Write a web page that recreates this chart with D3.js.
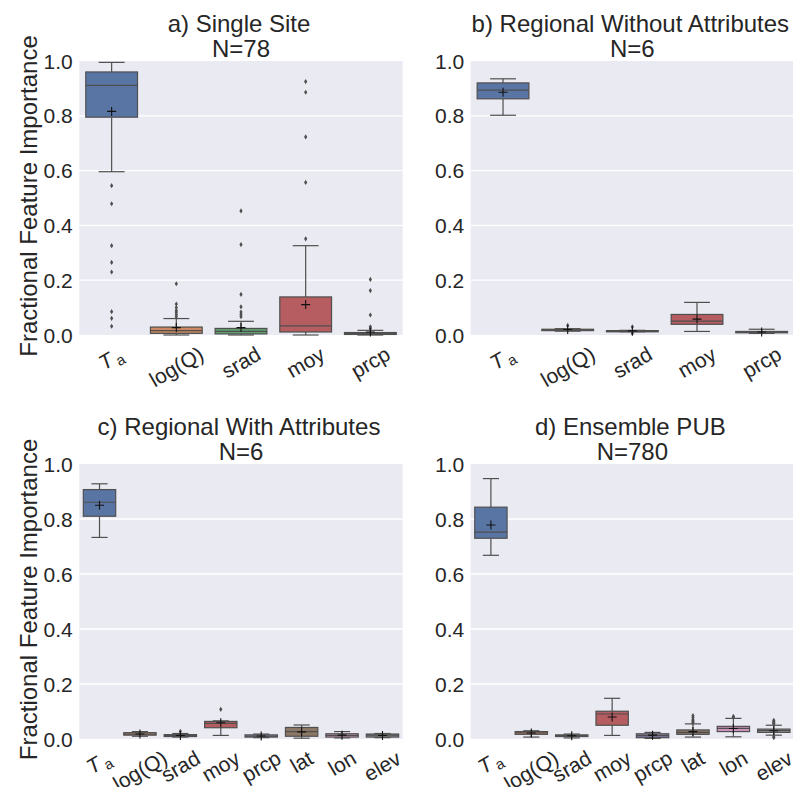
<!DOCTYPE html>
<html>
<head>
<meta charset="utf-8">
<script src="https://cdn.jsdelivr.net/npm/d3@7"></script>
<style>
  body { margin: 0; background: #fff; }
  svg { font-family: "Liberation Sans", Arial, sans-serif; }
</style>
</head>
<body>
<svg id="chart" width="793" height="787"></svg>
<script>
// feature names on the x axes
const featuresBasic = ["Ta", "log(Q)", "srad", "moy", "prcp"];
const featuresAttr = ["Ta", "log(Q)", "srad", "moy", "prcp", "lat", "lon", "elev"];

// seaborn "deep" palette, desaturated the way boxplot does it
const boxColors = ["#5875a4", "#cc8963", "#5f9e6e", "#b55d60", "#857aab", "#8d7866", "#d095bf", "#8c8c8c"];

// box stats: [whiskerLow, q1, median, q3, whiskerHigh, mean]
const singleSiteStats = [
  [0.596, 0.795, 0.911, 0.960, 0.995, 0.816],
  [0.000, 0.006, 0.016, 0.029, 0.060, 0.027],
  [0.000, 0.004, 0.013, 0.024, 0.050, 0.027],
  [0.000, 0.011, 0.033, 0.139, 0.326, 0.111],
  [0.000, 0.002, 0.005, 0.009, 0.017, 0.011]
];
const singleSiteFliers = [
  [0.545, 0.479, 0.326, 0.265, 0.230, 0.085, 0.061, 0.032],
  [0.187, 0.113, 0.100, 0.089, 0.083, 0.075, 0.067],
  [0.453, 0.330, 0.148, 0.103, 0.084, 0.075, 0.067],
  [0.925, 0.886, 0.723, 0.557, 0.351],
  [0.203, 0.162, 0.073, 0.030, 0.024]
];

const regionalNoAttrStats = [
  [0.802, 0.862, 0.894, 0.920, 0.935, 0.886],
  [0.014, 0.016, 0.018, 0.021, 0.023, 0.020],
  [0.012, 0.013, 0.015, 0.016, 0.017, 0.015],
  [0.013, 0.039, 0.051, 0.075, 0.119, 0.058],
  [0.006, 0.008, 0.010, 0.013, 0.021, 0.011]
];
const regionalNoAttrFliers = [[], [0.035], [0.030, 0.006], [], []];

const regionalAttrStats = [
  [0.733, 0.810, 0.861, 0.907, 0.928, 0.850],
  [0.010, 0.014, 0.018, 0.023, 0.027, 0.018],
  [0.007, 0.009, 0.012, 0.016, 0.020, 0.013],
  [0.013, 0.041, 0.057, 0.064, 0.066, 0.059],
  [0.005, 0.007, 0.010, 0.015, 0.018, 0.011],
  [0.003, 0.010, 0.027, 0.042, 0.051, 0.026],
  [0.004, 0.007, 0.013, 0.019, 0.027, 0.014],
  [0.005, 0.007, 0.014, 0.018, 0.020, 0.013]
];
const regionalAttrFliers = [[], [], [0.028], [0.108], [], [], [], []];

const ensembleStats = [
  [0.668, 0.730, 0.752, 0.843, 0.947, 0.778],
  [0.007, 0.017, 0.022, 0.027, 0.030, 0.022],
  [0.004, 0.009, 0.012, 0.015, 0.018, 0.012],
  [0.013, 0.050, 0.091, 0.101, 0.148, 0.080],
  [0.002, 0.005, 0.012, 0.019, 0.024, 0.014],
  [0.007, 0.017, 0.024, 0.033, 0.055, 0.027],
  [0.008, 0.027, 0.039, 0.046, 0.075, 0.038],
  [0.014, 0.024, 0.031, 0.036, 0.050, 0.030]
];
const ensembleFliers = [
  [], [], [], [], [],
  [0.085, 0.078, 0.070, 0.066, 0.062, 0.059],
  [0.082, 0.079],
  [0.068, 0.064, 0.060, 0.057, 0.055, 0.008, 0.005]
];

const yTicks = [0, 0.2, 0.4, 0.6, 0.8, 1.0];

const panels = [
  { title: "a) Single Site", n: "N=78", features: featuresBasic, stats: singleSiteStats, fliers: singleSiteFliers,
    x0: 79.3, x1: 402.7, y0: 61, y1: 335, ylabel: true },
  { title: "b) Regional Without Attributes", n: "N=6", features: featuresBasic, stats: regionalNoAttrStats, fliers: regionalNoAttrFliers,
    x0: 470.7, x1: 794, y0: 61, y1: 335, ylabel: false },
  { title: "c) Regional With Attributes", n: "N=6", features: featuresAttr, stats: regionalAttrStats, fliers: regionalAttrFliers,
    x0: 79.3, x1: 402.7, y0: 464, y1: 739, ylabel: true },
  { title: "d) Ensemble PUB", n: "N=780", features: featuresAttr, stats: ensembleStats, fliers: ensembleFliers,
    x0: 470.7, x1: 794, y0: 464, y1: 739, ylabel: false }
];

const LINE = "#4f4f4f";
const svg = d3.select("#chart");

panels.forEach((p) => drawPanel(p));

function drawPanel(p) {
  const x = d3.scaleBand().domain(p.features).range([p.x0, p.x1]).padding(0);
  const y = d3.scaleLinear().domain([0, 1]).range([p.y1, p.y0]);
  const g = svg.append("g");

  // background + grid
  g.append("rect")
    .attr("x", p.x0).attr("y", p.y0)
    .attr("width", p.x1 - p.x0).attr("height", p.y1 - p.y0)
    .attr("fill", "#eaeaf2");
  g.selectAll(".grid")
    .data(yTicks.slice(1, -1))
    .join("line")
    .attr("x1", p.x0).attr("x2", p.x1)
    .attr("y1", (d) => y(d)).attr("y2", (d) => y(d))
    .attr("stroke", "#fff").attr("stroke-width", 1.3);

  // y tick labels
  g.selectAll(".ytick")
    .data(yTicks)
    .join("text")
    .attr("x", p.x0 - 6.5)
    .attr("y", (d) => y(d))
    .attr("dy", "0.36em")
    .attr("text-anchor", "end")
    .attr("font-size", 21)
    .attr("fill", "#262626")
    .text((d) => d.toFixed(1));

  // boxes
  const bw = x.bandwidth() * 0.8;
  p.features.forEach((f, i) => {
    const [lo, q1, med, q3, hi, mean] = p.stats[i];
    const cx = x(f) + x.bandwidth() / 2;
    const b = g.append("g");
    b.append("line").attr("x1", cx).attr("x2", cx).attr("y1", y(q3)).attr("y2", y(hi))
      .attr("stroke", LINE).attr("stroke-width", 1.2);
    b.append("line").attr("x1", cx).attr("x2", cx).attr("y1", y(q1)).attr("y2", y(lo))
      .attr("stroke", LINE).attr("stroke-width", 1.2);
    [lo, hi].forEach((v) => {
      b.append("line").attr("x1", cx - bw / 4).attr("x2", cx + bw / 4)
        .attr("y1", y(v)).attr("y2", y(v))
        .attr("stroke", LINE).attr("stroke-width", 1.2);
    });
    b.append("rect")
      .attr("x", cx - bw / 2).attr("width", bw)
      .attr("y", y(q3)).attr("height", Math.max(y(q1) - y(q3), 1.2))
      .attr("fill", boxColors[i]).attr("stroke", LINE).attr("stroke-width", 1.2);
    b.append("line").attr("x1", cx - bw / 2).attr("x2", cx + bw / 2)
      .attr("y1", y(med)).attr("y2", y(med))
      .attr("stroke", LINE).attr("stroke-width", 1.2);
    // fliers: small diamonds
    b.selectAll(".flier")
      .data(p.fliers[i])
      .join("path")
      .attr("d", (d) => `M${cx},${y(d) - 2.6}L${cx + 1.6},${y(d)}L${cx},${y(d) + 2.6}L${cx - 1.6},${y(d)}Z`)
      .attr("fill", LINE);
    // mean marker "+"
    b.append("path")
      .attr("d", `M${cx - 4.5},${y(mean)}H${cx + 4.5}M${cx},${y(mean) - 4.5}V${y(mean) + 4.5}`)
      .attr("stroke", "#111").attr("stroke-width", 1.1).attr("fill", "none");
  });

  // x tick labels rotated 30deg, bbox centered under tick
  p.features.forEach((f) => {
    const cx = x(f) + x.bandwidth() / 2;
    const outer = g.append("g");
    const t = outer.append("text")
      .attr("text-anchor", "middle")
      .attr("font-size", 21)
      .attr("fill", "#262626")
      .attr("transform", "rotate(-30)");
    if (f === "Ta") {
      t.append("tspan").attr("font-style", "italic").text("T");
      t.append("tspan").attr("font-size", 15).attr("dx", 3).attr("dy", 4).text("a");
    } else {
      t.text(f);
    }
    const bb = outer.node().getBBox();
    outer.attr("transform", `translate(${cx - (bb.x + bb.width / 2)},${p.y1 + 7 - bb.y})`);
  });

  // title (two lines)
  const tc = (p.x0 + p.x1) / 2 - 2;
  g.append("text").attr("x", tc).attr("y", p.y0 - 29.5)
    .attr("text-anchor", "middle").attr("font-size", 24).attr("fill", "#262626").text(p.title);
  g.append("text").attr("x", tc + 2).attr("y", p.y0 - 4)
    .attr("text-anchor", "middle").attr("font-size", 24).attr("fill", "#262626").text(p.n);

  if (p.ylabel) {
    g.append("text")
      .attr("transform", `translate(37,${(p.y0 + p.y1) / 2 - 2}) rotate(-90)`)
      .attr("text-anchor", "middle")
      .attr("font-size", 24)
      .attr("fill", "#262626")
      .text("Fractional Feature Importance");
  }
}
</script>
</body>
</html>
